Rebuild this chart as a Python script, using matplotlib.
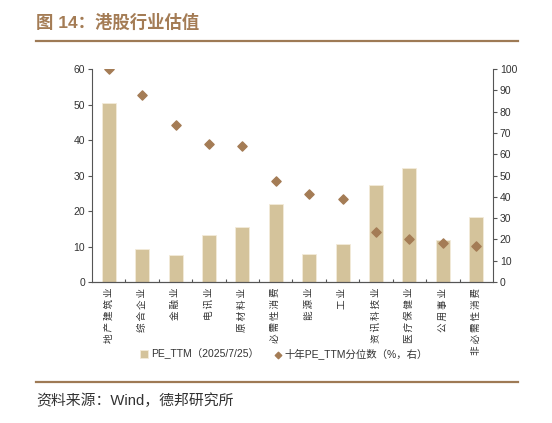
import matplotlib
matplotlib.use('Agg')
import matplotlib.pyplot as plt
import numpy as np

plt.rcParams['font.family'] = ['Liberation Sans', 'Noto Sans CJK SC']
plt.rcParams['axes.unicode_minus'] = False

# 行业与数值
industries = ['地产建筑业', '综合企业', '金融业', '电讯业', '原材料业', '必需性消费',
              '能源业', '工业', '资讯科技业', '医疗保健业', '公用事业', '非必需性消费']
pe_ttm = [50.5, 9.2, 7.6, 13.2, 15.4, 22.0, 7.9, 10.7, 27.4, 32.2, 11.8, 18.2]
pe_pct = [100.0, 87.8, 73.7, 64.8, 64.0, 47.3, 41.2, 38.8, 23.3, 20.3, 18.2, 16.8]

bar_color = '#D4C39B'
dot_color = '#A47C55'
title_color = '#A47C55'
text_color = '#333333'

fig = plt.figure(figsize=(5.52, 4.23), dpi=100)
ax = fig.add_axes([0.1667, 0.3333, 0.7263, 0.5035])
ax2 = ax.twinx()

x = np.arange(len(industries))
ax.bar(x, pe_ttm, width=0.42, color=bar_color, edgecolor='#F3EBDA', linewidth=0.6,
       label='PE_TTM（2025/7/25）', zorder=2)
ax2.scatter(x, pe_pct, marker='D', s=22, color=dot_color, zorder=3,
            label='十年PE_TTM分位数（%，右）')

ax.set_xlim(-0.5, len(industries) - 0.5)
ax.set_ylim(0, 60)
ax.set_yticks(range(0, 61, 10))
ax2.set_ylim(0, 100)
ax2.set_yticks(range(0, 101, 10))

for a in (ax, ax2):
    a.spines['top'].set_visible(False)
    for s in a.spines.values():
        s.set_color('#555555')
        s.set_linewidth(0.8)
    a.tick_params(axis='y', labelsize=7.5, colors='#555555', labelcolor=text_color,
                  length=3, width=0.8, pad=2)
ax.spines['right'].set_visible(False)
ax2.spines['left'].set_visible(False)

# x轴刻度在类别分界处，朝内
ax.set_xticks(np.arange(0.5, len(industries) - 0.5, 1))
ax.set_xticklabels([])
ax.tick_params(axis='x', direction='in', length=2.5, width=0.8, colors='#555555')

# 旋转的类别标签，字间插入细空格
for i, name in enumerate(industries):
    ax.annotate('\u2009'.join(name), xy=(i, 0), xycoords='data', xytext=(0, -4.2),
                textcoords='offset points', rotation=90, ha='center', va='top',
                fontsize=6.9, color=text_color, family=['Noto Sans CJK SC', 'DejaVu Sans'])

# 图例
h1, l1 = ax.get_legend_handles_labels()
h2, l2 = ax2.get_legend_handles_labels()
fig.legend(h1 + h2, l1 + l2, loc='center', bbox_to_anchor=(0.515, 0.163), ncol=2,
           frameon=False, fontsize=7.5, handlelength=0.7, handletextpad=0.3,
           columnspacing=1.5, labelcolor=text_color, markerscale=0.7)

# 标题与分隔线
fig.text(0.065, 0.948, '图 14：港股行业估值', fontsize=12.5, fontweight='bold',
         color=title_color, va='center', family=['Liberation Sans', 'Noto Sans CJK SC'])
fig.add_artist(plt.Line2D([0.065, 0.938], [0.903, 0.903], color='#9E7A55', linewidth=1.6))
fig.add_artist(plt.Line2D([0.065, 0.938], [0.098, 0.098], color='#9E7A55', linewidth=1.6))
fig.text(0.065, 0.052, '资料来源：Wind，德邦研究所', fontsize=10.7, color=text_color, va='center')

fig.savefig('out.png', dpi=100)
